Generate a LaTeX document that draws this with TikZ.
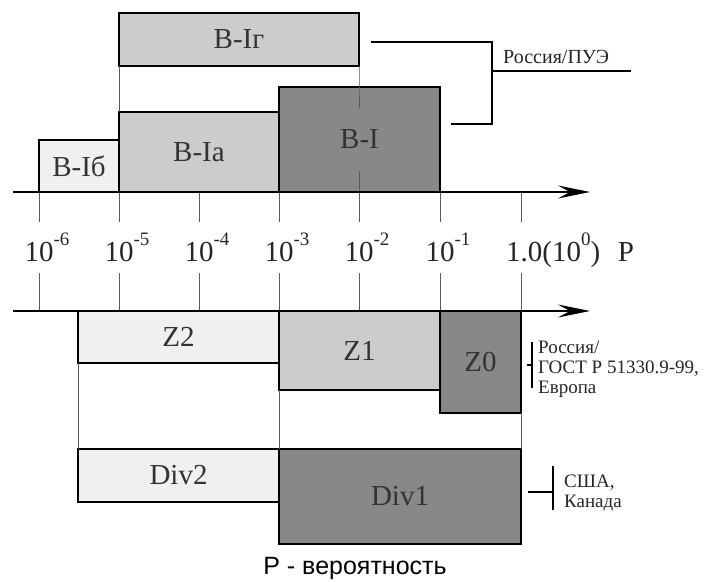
\documentclass[tikz,border=0pt]{standalone}
\usepackage{fontspec}
\setmainfont{Liberation Serif}
\newfontfamily\capfont{Liberation Sans}
\usetikzlibrary{arrows.meta}
\definecolor{lightfill}{HTML}{F0F0F0}
\definecolor{midfill}{HTML}{CCCCCC}
\definecolor{darkfill}{HTML}{888888}
\begin{document}
\begin{tikzpicture}[x=1pt,y=-1pt,
  zone/.style={draw=black, line width=1.6pt, inner sep=0pt, outer sep=0pt,
    font=\fontsize{29}{30}\selectfont, text=black!80},
  lt/.style={zone, fill=lightfill},
  md/.style={zone, fill=midfill},
  dk/.style={zone, fill=darkfill},
  axisline/.style={line width=2.6pt, -{Stealth[length=32pt,width=13pt,inset=12pt]}},
  tickline/.style={line width=0.8pt, draw=black!65},
  thinline/.style={line width=0.8pt, draw=black!65},
  bracket/.style={line width=1.6pt},
  ticklabel/.style={font=\fontsize{29}{30}\selectfont, inner sep=0pt, anchor=base, text=black!85},
  note/.style={font=\fontsize{19}{20}\selectfont, inner sep=0pt, anchor=base west, text=black!85}
]
\useasboundingbox (0,0) rectangle (704,581);
\fill[white] (0,0) rectangle (704,581);

% upper group
\node[md, minimum width=240pt, minimum height=53pt] (bIg) at (239,39.5) {В-Iг};
\node[lt, minimum width=80pt, minimum height=52pt] (bIb) at (79,166) {В-Iб};
\node[md, minimum width=160pt, minimum height=80pt] (bIa) at (199,152) {В-Iа};
\node[dk, minimum width=161pt, minimum height=105pt] (bI) at (359.5,139.5) {В-I};

\draw[thinline] (bIg.south west) -- (bIa.north west);
\draw[thinline] (bIg.south east) -- (bIg.south east |- bI.north) -- ++(0,21);
\draw[thinline] (bIg.south east |- bI.south) -- ++(0,-21);

% lower group
\node[lt, minimum width=201pt, minimum height=52pt] (z2) at (178.5,337) {Z2};
\node[md, minimum width=161pt, minimum height=79pt] (z1) at (359.5,350.5) {Z1};
\node[dk, minimum width=81pt, minimum height=102pt] (z0) at (480.5,362) {Z0};
\node[lt, minimum width=201pt, minimum height=53pt] (div2) at (178.5,475.5) {Div2};
\node[dk, minimum width=242pt, minimum height=95pt] (div1) at (400,496.5) {Div1};

\draw[thinline] (z2.south west) -- (div2.north west);
\draw[thinline] (z1.south west) -- (div1.north west);
\draw[thinline] (z0.south east) -- (div1.north east);

% axes
\coordinate (a1s) at (13,192);
\coordinate (a1e) at (590,192);
\coordinate (a2s) at (13,311);
\coordinate (a2e) at (590,311);
\foreach \x in {39,119,199,279,359,440,521}{
  \draw[tickline] (\x,192) -- (\x,222);
  \draw[tickline] (\x,273) -- (\x,311);
}
\draw[axisline] (a1s) -- (a1e);
\draw[axisline] (a2s) -- (a2e);

% tick labels
\node[ticklabel] (t6) at (39,261) {10\rlap{\raisebox{0.52em}{\fontsize{19}{19}\selectfont -6}}};
\node[ticklabel] (t5) at (119,261) {10\rlap{\raisebox{0.52em}{\fontsize{19}{19}\selectfont -5}}};
\node[ticklabel] (t4) at (199,261) {10\rlap{\raisebox{0.52em}{\fontsize{19}{19}\selectfont -4}}};
\node[ticklabel] (t3) at (279,261) {10\rlap{\raisebox{0.52em}{\fontsize{19}{19}\selectfont -3}}};
\node[ticklabel] (t2) at (359,261) {10\rlap{\raisebox{0.52em}{\fontsize{19}{19}\selectfont -2}}};
\node[ticklabel] (t1) at (440,261) {10\rlap{\raisebox{0.52em}{\fontsize{19}{19}\selectfont -1}}};
\node[ticklabel, anchor=base west] (t0) at (506,261) {1.0(10\raisebox{0.52em}{\fontsize{19}{19}\selectfont 0})};
\node[ticklabel] (tp) at (626,261) {P};

% Russia / PUE bracket
\coordinate (p1) at (371,42);
\coordinate (p3) at (492,124);
\coordinate (p4) at (451,124);
\coordinate (p5) at (492,71);
\coordinate (p6) at (631,71);
\draw[bracket] (p1) -| (p3) -- (p4);
\draw[bracket] (p5) -- (p6);
\node[note, font=\fontsize{20}{20}\selectfont] (pue) at (503,63) {Россия/ПУЭ};

% Z bracket
\coordinate (q1) at (532,342);
\coordinate (q2) at (532,388);
\coordinate (q3) at (527,365);
\draw[bracket] (q1) -- (q2);
\draw[bracket] (q3) -- (q3 -| q1);
\node[note] (gost1) at (538,353) {Россия/};
\node[note] (gost2) at (538,373) {ГОСТ Р 51330.9-99,};
\node[note] (gost3) at (538,393) {Европа};

% USA bracket
\coordinate (u1) at (553,466);
\coordinate (u2) at (553,510);
\coordinate (u3) at (528,492);
\draw[bracket] (u1) -- (u2);
\draw[bracket] (u3) -- (u3 -| u1);
\node[note] (usa1) at (564,487) {США,};
\node[note] (usa2) at (564,507) {Канада};

% caption
\node[font=\capfont\fontsize{25}{28}\selectfont, inner sep=0pt] (cap) at (355,568) {P - вероятность};
\end{tikzpicture}
\end{document}
